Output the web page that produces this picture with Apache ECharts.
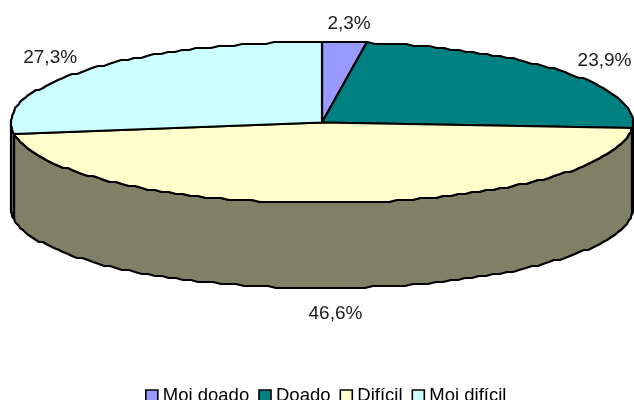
<!DOCTYPE html>
<html><head><meta charset="utf-8">
<style>html,body{margin:0;padding:0;background:#fff}#c{width:634px;height:400px}</style>
<script src="https://cdn.jsdelivr.net/npm/echarts@6/dist/echarts.min.js"></script>
</head><body><div id="c"></div>
<script>
const categories = ['Moi doado', 'Doado', 'Difícil', 'Moi difícil'];
const shares = [2.3, 23.9, 46.6, 27.3];
const faceColors = ['#9999ff', '#008080', '#ffffcc', '#ccffff'];
const wallColors = ['#666699', '#005a5a', '#808066', '#668080'];

const cx = 322, cy = 122.5, rx = 311, ry = 80.5, depth = 85;
const total = shares.reduce((a, b) => a + b, 0);
const snap = (v, s) => Math.round(v / s) * s;
const pt = (deg, dy) => {
  const t = deg * Math.PI / 180;
  return [snap(cx + rx * Math.sin(t), 1), snap(cy - ry * Math.cos(t) + (dy || 0), 2)];
};
const arc = (a, b, dy) => {
  const pts = [], n = Math.max(1, Math.ceil((b - a) / 1.5));
  for (let i = 0; i <= n; i++) pts.push(pt(a + (b - a) * i / n, dy));
  return pts;
};
const chart = echarts.init(document.getElementById('c'), null, {renderer: 'canvas'});
let acc = 0;
const series = categories.map((name, i) => {
  const start = acc / total * 360;
  acc += shares[i];
  const end = acc / total * 360;
  return {
    type: 'custom', name, coordinateSystem: 'none',
    itemStyle: {color: faceColors[i]},
    data: [[shares[i]]],
    z: 2 + i,
    renderItem: (params, api) => {
      const children = [];
      const stroke = {stroke: '#000', lineWidth: 2.2, lineJoin: 'round'};
      const wa = Math.max(start, 90), wb = Math.min(end, 270);
      if (wb > wa) {
        const top = arc(wa, wb), bot = arc(wa, wb, depth).reverse();
        children.push({type: 'polygon', shape: {points: top.concat(bot)},
          style: {fill: wallColors[i], ...stroke}});
      }
      const mouth = [[cx, cy]].concat(arc(start, end));
      children.push({type: 'polygon', shape: {points: mouth},
        style: {fill: faceColors[i], ...stroke}});
      const mid = (start + end) / 2 * Math.PI / 180;
      const lx = cx + 1 + (rx + 50) * Math.sin(mid);
      const c = Math.cos(mid);
      const ly = cy + 1.5 - (ry + 20) * c + (c < 0 ? depth + 4 : 0);
      children.push({type: 'text', z2: 10, style: {
        text: api.value(0).toFixed(1).replace('.', ',') + '%',
        x: lx, y: ly, align: 'center', verticalAlign: 'middle',
        fill: '#1a1a1a', font: '19px "Liberation Sans", Arial, sans-serif'}});
      return {type: 'group', children};
    }
  };
});
chart.setOption({
  animation: false,
  legend: {
    data: categories, left: 145, top: 386, icon: 'rect',
    itemWidth: 12, itemHeight: 11, itemGap: 9, padding: 0,
    itemStyle: {borderColor: '#000', borderWidth: 1.6},
    textStyle: {color: '#000', fontSize: 18.5, fontFamily: '"Liberation Sans", Arial, sans-serif'}
  },
  series
});
</script></body></html>
